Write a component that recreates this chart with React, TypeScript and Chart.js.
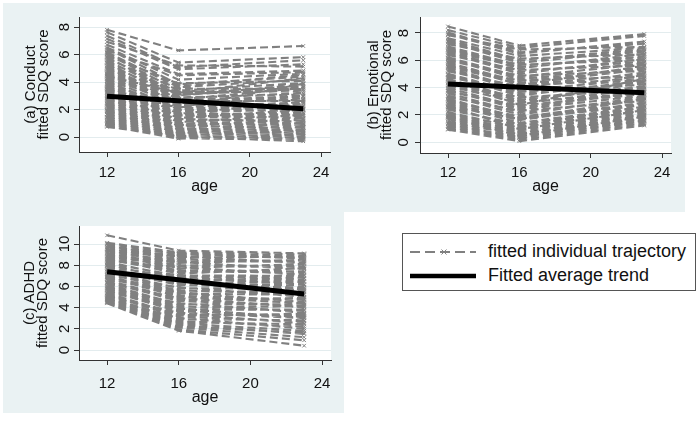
import React, { useEffect, useRef } from "react";
import { Chart, registerables } from "chart.js";
Chart.register(...registerables);

// ---------- data ----------
const trajAges = [12, 16, 23];
const meanAges = [12, 23];
const xTicks = [12, 16, 20, 24];

// (a) Conduct
const conductAge12 = [7.8, 7.62, 7.37, 7.15, 6.93, 6.71, 6.52, 6.44, 6.31, 6.18, 6.04, 5.93, 5.79, 5.71, 5.58, 5.49, 5.36, 5.22, 5.13, 4.97, 4.91, 4.78, 4.69, 4.57, 4.52, 4.38, 4.27, 4.21, 4.06, 3.98, 3.87, 3.81, 3.66, 3.59, 3.47, 3.42, 3.28, 3.19, 3.08, 2.96, 2.91, 2.78, 2.73, 2.61, 2.49, 2.42, 2.28, 2.21, 2.07, 1.98, 1.89, 1.81, 1.68, 1.62, 1.48, 1.41, 1.29, 1.18, 1.09, 0.98, 0.91, 0.82, 0.74, 6.12, 5.84, 5.41, 5.05, 4.63, 4.12, 3.73, 3.33, 2.84, 2.35, 1.93, 1.45, 1.02, 3.52, 4.45];
const conductAge16 = [6.3, 5.42, 5.08, 4.93, 5.21, 4.58, 4.17, 3.84, 4.49, 3.62, 3.38, 3.91, 3.19, 3.52, 3.03, 3.29, 2.88, 3.12, 2.71, 2.83, 2.58, 2.47, 2.39, 2.18, 2.61, 2.32, 2.02, 2.11, 1.88, 1.97, 1.79, 1.63, 1.71, 1.49, 1.41, 1.58, 1.27, 1.19, 1.12, 1.31, 0.98, 0.91, 1.03, 0.79, 0.72, 0.88, 0.61, 0.52, 0.63, 0.41, 0.49, 0.33, 0.38, 0.22, 0.29, 0.12, 0.19, 0.02, 0.09, -0.08, 0.01, -0.12, 0.06, 3.71, 3.02, 2.72, 2.49, 2.28, 1.69, 1.38, 1.08, 0.82, 0.58, 0.28, 0.08, 0.04, 2.12, 3.22];
const conductAge23 = [6.62, 5.81, 5.58, 5.29, 5.12, 4.83, 4.61, 4.38, 4.72, 4.19, 3.92, 4.08, 3.71, 3.49, 3.63, 3.31, 3.09, 3.42, 2.91, 3.18, 2.69, 2.98, 2.79, 2.52, 2.62, 2.28, 2.41, 2.09, 2.22, 1.91, 2.01, 1.78, 1.61, 1.72, 1.52, 1.39, 1.21, 1.33, 0.99, 1.12, 0.88, 1.01, 0.79, 0.68, 0.92, 0.58, 0.49, 0.71, 0.42, 0.31, 0.52, 0.19, 0.41, 0.09, 0.28, -0.02, 0.18, -0.11, 0.11, -0.22, -0.31, 0.03, -0.14, 4.52, 3.82, 3.58, 2.71, 2.98, 2.58, 1.98, 1.62, 1.28, 0.95, 0.71, 0.32, 0.42, 3.88, 4.28];
const conductMean = [2.96, 2.06];
const conductTicks = [0, 2, 4, 6, 8];

// (b) Emotional
const emotionalAge12 = [8.48, 8.21, 8.03, 7.84, 7.62, 7.51, 7.33, 7.18, 7.02, 6.91, 6.79, 6.63, 6.52, 6.38, 6.22, 6.09, 5.98, 5.83, 5.71, 5.59, 5.42, 5.31, 5.19, 5.02, 4.91, 4.78, 4.62, 4.51, 4.39, 4.22, 4.11, 3.98, 3.82, 3.71, 3.59, 3.42, 3.31, 3.18, 3.02, 2.91, 2.79, 2.62, 2.51, 2.38, 2.21, 2.09, 1.98, 1.87, 1.79, 1.68, 1.52, 1.41, 1.22, 1.11, 0.98, 0.92, 1.83, 2.68, 7.92, 7.41, 6.71, 6.15, 5.52, 4.95, 4.31, 3.76, 3.12, 2.56, 1.92, 1.32, 5.88, 4.68];
const emotionalAge16 = [7.08, 6.91, 6.58, 6.79, 6.31, 6.02, 5.81, 6.12, 5.62, 5.41, 5.68, 5.19, 5.02, 5.29, 4.81, 4.62, 4.88, 4.42, 4.21, 4.52, 3.98, 3.79, 4.09, 3.62, 3.41, 3.71, 3.19, 3.02, 3.29, 2.81, 2.91, 2.58, 2.41, 2.69, 2.19, 2.02, 2.31, 1.79, 1.88, 1.61, 1.42, 1.71, 1.21, 1.32, 1.02, 1.09, 0.89, 0.79, 0.71, 0.61, 0.52, 0.59, 0.41, 0.31, 0.19, 0.08, 0.48, 0.95, 6.48, 5.98, 5.49, 4.71, 4.31, 3.51, 3.08, 2.48, 1.68, 1.18, 0.68, 0.35, 4.18, 2.72];
const emotionalAge23 = [7.92, 7.78, 7.21, 6.98, 6.91, 6.62, 6.71, 6.42, 6.21, 6.48, 6.02, 5.91, 6.09, 5.62, 5.71, 5.42, 5.21, 5.52, 5.01, 4.81, 5.09, 4.62, 4.71, 4.42, 4.52, 4.21, 4.02, 4.11, 3.81, 3.92, 3.61, 3.72, 3.41, 3.52, 3.21, 3.31, 3.02, 3.11, 2.81, 2.91, 2.62, 2.71, 2.42, 2.51, 2.21, 2.31, 2.02, 2.11, 1.81, 1.92, 1.62, 1.71, 1.52, 1.41, 1.31, 1.22, 1.88, 2.35, 7.38, 6.82, 6.32, 5.82, 5.32, 4.92, 4.32, 3.68, 3.22, 2.62, 1.98, 1.58, 5.61, 4.65];
const emotionalMean = [4.26, 3.62];
const emotionalTicks = [0, 2, 4, 6, 8];

// (c) ADHD
const adhdAge12 = [10.82, 10.12, 10.01, 9.88, 9.71, 9.58, 9.42, 9.31, 9.12, 9.01, 8.89, 8.72, 8.61, 8.42, 8.31, 8.19, 8.02, 7.91, 7.79, 7.62, 7.51, 7.38, 7.22, 7.09, 6.98, 6.81, 6.72, 6.59, 6.42, 6.31, 6.21, 6.02, 5.91, 5.79, 5.62, 5.51, 5.38, 5.22, 5.11, 4.98, 4.91, 4.79, 4.71, 4.62, 4.52, 4.46, 4.41, 5.71, 6.88, 8.08, 10.05, 9.52, 9.22, 8.81, 8.52, 7.96, 7.42, 6.91, 6.36, 5.86, 5.32, 4.86, 4.56, 5.05];
const adhdAge16 = [9.38, 9.21, 9.02, 8.71, 9.12, 8.52, 8.21, 8.82, 8.01, 7.72, 8.31, 7.52, 7.21, 7.81, 6.91, 7.02, 6.62, 6.82, 6.31, 6.12, 6.41, 5.82, 5.61, 5.91, 5.31, 5.12, 5.41, 4.81, 4.62, 4.91, 4.31, 4.12, 4.42, 3.82, 3.62, 3.91, 3.31, 3.12, 3.42, 2.91, 2.72, 3.02, 2.52, 2.41, 2.12, 1.91, 1.82, 3.71, 5.02, 6.52, 9.08, 8.91, 8.41, 7.92, 7.42, 6.72, 6.22, 5.52, 4.72, 4.02, 3.22, 2.62, 2.21, 3.52];
const adhdAge23 = [9.12, 9.02, 8.91, 8.81, 8.62, 8.41, 8.52, 8.21, 7.91, 8.12, 7.62, 7.41, 7.72, 7.11, 6.81, 7.01, 6.52, 6.21, 6.42, 5.91, 5.62, 5.81, 5.31, 5.02, 5.21, 4.72, 4.52, 4.81, 4.21, 4.02, 4.31, 3.72, 3.52, 3.81, 3.21, 3.02, 3.31, 2.72, 2.52, 2.81, 2.21, 2.02, 1.81, 1.52, 1.21, 0.92, 0.41, 3.12, 4.41, 5.72, 9.02, 8.72, 8.31, 7.82, 7.31, 6.72, 6.12, 5.52, 4.92, 4.12, 3.42, 2.42, 1.62, 3.01];
const adhdMean = [7.39, 5.28];
const adhdTicks = [0, 2, 4, 6, 8, 10];

const legendLabels = ["fitted individual trajectory", "Fitted average trend"];

// ---------- style ----------
const FONT = '"Liberation Sans", Arial, Helvetica, sans-serif';
const PANEL_BG = "#EAF2F3";
const GRID = "#E3ECEE";
const AXIS = "#333333";
const TRAJ = "#808080";

type PanelProps = {
  left: number;
  top: number;
  width: number;
  height: number;
  area: { left: number; top: number; right: number; bottom: number };
  yMin: number;
  yMax: number;
  yTicks: number[];
  titleLines: string[];
  v12: number[];
  v16: number[];
  v23: number[];
  mean: number[];
  txt: { yTick: number; title1: number; title2: number; xTick: number; xTitle: number };
};

function Panel(p: PanelProps) {
  const ref = useRef<HTMLCanvasElement | null>(null);
  useEffect(() => {
    const canvas = ref.current;
    if (!canvas) return;
    const traj: { x: number; y: number | null }[] = [];
    for (let i = 0; i < p.v12.length; i++) {
      const vals = [p.v12[i], p.v16[i], p.v23[i]];
      trajAges.forEach((a, k) => traj.push({ x: a, y: vals[k] }));
      traj.push({ x: 23, y: null });
    }
    const meanPts = meanAges.map((a, k) => ({ x: a, y: p.mean[k] }));

    const textPlugin = {
      id: "panelText",
      beforeDraw(chart: any) {
        const { ctx, chartArea } = chart;
        ctx.save();
        ctx.fillStyle = PANEL_BG;
        ctx.fillRect(0, 0, chart.width, chart.height);
        ctx.fillStyle = "#ffffff";
        ctx.fillRect(chartArea.left, chartArea.top, chartArea.right - chartArea.left, chartArea.bottom - chartArea.top);
        ctx.restore();
      },
      afterDraw(chart: any) {
        const { ctx, chartArea } = chart;
        const xs = chart.scales.x;
        const ys = chart.scales.y;
        ctx.save();
        ctx.fillStyle = "#111";
        ctx.font = `15px ${FONT}`;
        p.yTicks.forEach((v) => {
          const y = ys.getPixelForValue(v);
          ctx.save();
          ctx.translate(chartArea.left + p.txt.yTick, y);
          ctx.rotate(-Math.PI / 2);
          ctx.textAlign = "center";
          ctx.textBaseline = "alphabetic";
          ctx.fillText(String(v), 0, 0);
          ctx.restore();
        });
        const cy = (chartArea.top + chartArea.bottom) / 2;
        [p.txt.title1, p.txt.title2].forEach((dx, i) => {
          ctx.save();
          ctx.translate(chartArea.left + dx, cy);
          ctx.rotate(-Math.PI / 2);
          ctx.textAlign = "center";
          ctx.textBaseline = "alphabetic";
          ctx.fillText(p.titleLines[i], 0, 0);
          ctx.restore();
        });
        ctx.textAlign = "center";
        ctx.textBaseline = "alphabetic";
        xTicks.forEach((v) => {
          ctx.fillText(String(v), xs.getPixelForValue(v), chartArea.bottom + p.txt.xTick);
        });
        ctx.font = `16px ${FONT}`;
        ctx.fillText("age", (chartArea.left + chartArea.right) / 2, chartArea.bottom + p.txt.xTitle);
        ctx.restore();
      },
    };

    const chart = new Chart(canvas, {
      type: "line",
      data: {
        datasets: [
          {
            data: meanPts as any,
            borderColor: "#000000",
            borderWidth: 5,
            pointRadius: 0,
            order: 0,
          },
          {
            data: traj as any,
            borderColor: TRAJ,
            borderWidth: 2.1,
            borderDash: [8, 4],
            pointStyle: "crossRot",
            pointRadius: 2.5,
            pointBorderWidth: 1,
            pointBorderColor: TRAJ,
            pointBackgroundColor: TRAJ,
            spanGaps: false,
            order: 5,
          },
        ],
      },
      options: {
        responsive: false,
        animation: false,
        events: [],
        layout: { padding: { left: 0, top: p.area.top, right: p.width - p.area.right, bottom: 0 } },
        plugins: { legend: { display: false }, tooltip: { enabled: false } },
        scales: {
          x: {
            type: "linear",
            min: 10.43,
            max: 24.5,
            afterBuildTicks: (s: any) => {
              s.ticks = xTicks.map((v) => ({ value: v }));
            },
            afterFit: (s: any) => {
              s.height = p.height - p.area.bottom;
            },
            ticks: { display: false },
            grid: { drawOnChartArea: false, drawTicks: true, tickLength: 5, tickColor: AXIS, tickWidth: 1 },
            border: { display: true, color: AXIS, width: 1 },
          },
          y: {
            type: "linear",
            min: p.yMin,
            max: p.yMax,
            afterBuildTicks: (s: any) => {
              s.ticks = p.yTicks.map((v) => ({ value: v }));
            },
            afterFit: (s: any) => {
              s.width = p.area.left;
            },
            ticks: { display: false },
            grid: { color: GRID, lineWidth: 1, drawTicks: true, tickLength: 5, tickColor: AXIS, tickWidth: 1 },
            border: { display: true, color: AXIS, width: 1 },
          },
        },
      },
      plugins: [textPlugin],
    } as any);
    return () => chart.destroy();
  }, []);
  return (
    <canvas
      ref={ref}
      width={p.width}
      height={p.height}
      style={{ position: "absolute", left: p.left, top: p.top, width: p.width, height: p.height }}
    />
  );
}

function Legend() {
  return (
    <div
      style={{
        position: "absolute",
        left: 402,
        top: 233,
        width: 292,
        height: 56,
        border: "1px solid #555",
        background: "#fff",
        fontFamily: FONT,
        fontSize: 18,
        color: "#111",
      }}
    >
      <svg width={80} height={56} style={{ position: "absolute", left: 0, top: 0 }}>
        <line x1={7} y1={18} x2={73} y2={18} stroke={TRAJ} strokeWidth={1.8} strokeDasharray="10 5" />
        <path d="M38.5,15.5 L43.5,20.5 M43.5,15.5 L38.5,20.5" stroke={TRAJ} strokeWidth={1} />
        <line x1={7} y1={42} x2={73} y2={42} stroke="#000" strokeWidth={4.5} />
      </svg>
      <div style={{ position: "absolute", left: 85, top: 6, lineHeight: "22px", whiteSpace: "nowrap" }}>{legendLabels[0]}</div>
      <div style={{ position: "absolute", left: 85, top: 30, lineHeight: "22px", whiteSpace: "nowrap" }}>{legendLabels[1]}</div>
    </div>
  );
}

export default function App() {
  return (
    <div style={{ position: "fixed", left: 0, top: 0, width: 699, height: 423, background: "#fff", overflow: "hidden" }}>
      <Panel
        left={3}
        top={3}
        width={341}
        height={209}
        area={{ left: 76, top: 14, right: 327, bottom: 149 }}
        yMin={-1.09}
        yMax={8.73}
        yTicks={conductTicks}
        titleLines={["(a) Conduct", "fitted SDQ score"]}
        v12={conductAge12}
        v16={conductAge16}
        v23={conductAge23}
        mean={conductMean}
        txt={{ yTick: -10.5, title1: -44.5, title2: -31, xTick: 24.5, xTitle: 38.5 }}
      />
      <Panel
        left={344}
        top={3}
        width={341}
        height={209}
        area={{ left: 76, top: 14, right: 327, bottom: 150 }}
        yMin={-0.79}
        yMax={9.17}
        yTicks={emotionalTicks}
        titleLines={["(b) Emotional", "fitted SDQ score"]}
        v12={emotionalAge12}
        v16={emotionalAge16}
        v23={emotionalAge23}
        mean={emotionalMean}
        txt={{ yTick: -12, title1: -42, title2: -29, xTick: 23.5, xTitle: 38 }}
      />
      <Panel
        left={3}
        top={212}
        width={341}
        height={201}
        area={{ left: 76, top: 14, right: 328, bottom: 148 }}
        yMin={-0.94}
        yMax={11.7}
        yTicks={adhdTicks}
        titleLines={["(c) ADHD", "fitted SDQ score"]}
        v12={adhdAge12}
        v16={adhdAge16}
        v23={adhdAge23}
        mean={adhdMean}
        txt={{ yTick: -10.5, title1: -45.5, title2: -32, xTick: 27.5, xTitle: 42 }}
      />
      <Legend />
    </div>
  );
}
